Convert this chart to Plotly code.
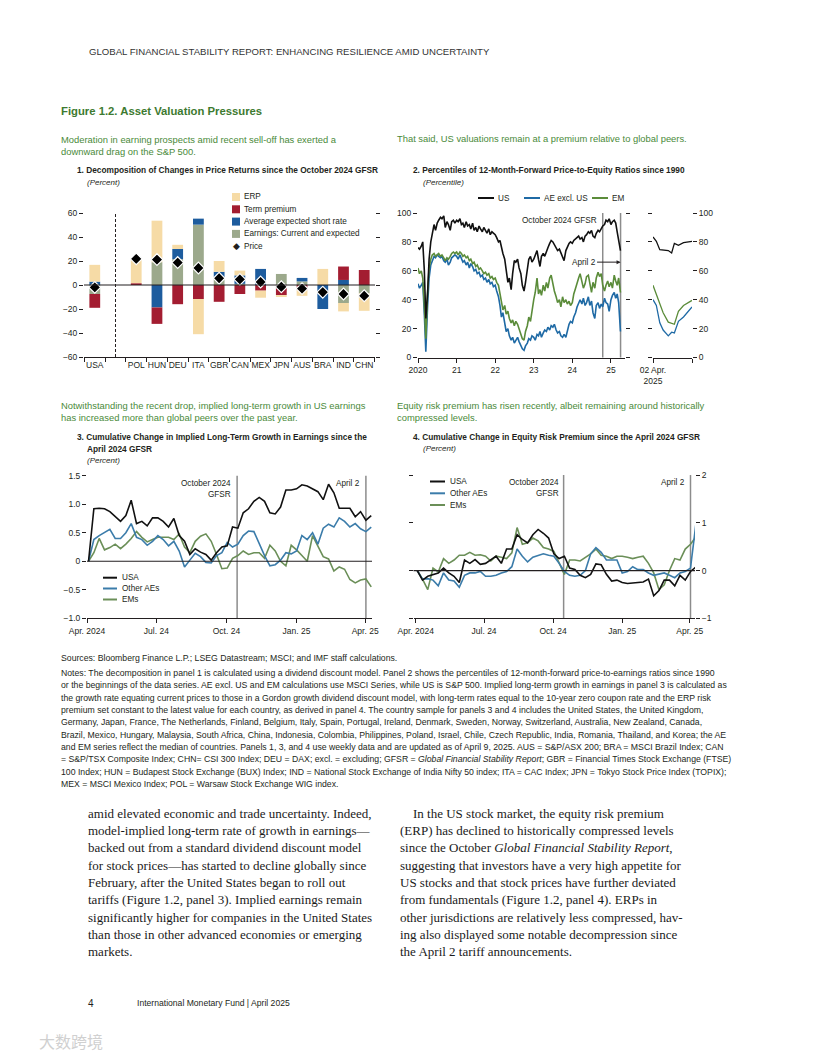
import plotly.graph_objects as go
import pandas as pd

# ---------------- Panel 1 data ----------------
p1_categories = ["USA", " ", "POL", "HUN", "DEU", "ITA", "GBR", "CAN", "MEX", "JPN", "AUS", "BRA", "IND", "CHN"]
p1_earnings = [-7.5, None, 0, 19, 21.5, 50.3, 6.4, 1, 0, 9.2, 3, 0, -15, -7]
p1_short_rate = [2.8, None, 0, -18.7, 8.5, 5, 4.6, 7, 13.4, 0, 2.9, -20, 4.2, 0]
p1_term_premium = [-11.5, None, 1.5, -13.7, -16, -11.7, -14, -7.5, -4.7, -8.4, -4, 0, 11.2, 12.5]
p1_erp = [14, None, 20, 34.6, 3.5, -29.3, 9, 4, -5.9, -1.6, -5, 13.4, -7, -14.5]
p1_price = [-2, None, 21.8, 21.2, 18.7, 14.2, 5.6, 4.7, 2.5, -1.5, -3, -6, -7.5, -9]

# ---------------- Panel 2 data (semi-monthly, 2020-01-01 .. 2025-04-01) ----------------
p2_dates = pd.date_range("2020-01-01", "2025-04-01", freq="SMS")
p2_us = [76, 75, 77, 80, 60, 27, 45, 68, 80, 86, 92, 88, 93, 95, 97, 96, 98, 90, 94, 92, 88, 94, 95, 93,
         95, 94, 96, 92, 93, 90, 94, 91, 92, 89, 93, 88, 90, 87, 91, 89, 87, 90, 88, 86, 89, 85, 87, 86,
         85, 83, 80, 81, 76, 72, 68, 60, 52, 55, 47, 58, 67, 66, 68, 62, 58, 50, 46, 52, 60, 68, 70, 66,
         68, 71, 74, 68, 63, 70, 72, 70, 74, 76, 79, 81, 80, 78, 76, 74, 75, 72, 70, 67, 74, 77, 79, 80,
         79, 81, 82, 83, 84, 82, 83, 80, 84, 85, 87, 86, 88, 84, 83, 86, 88, 87, 89, 91, 92, 95, 94, 96,
         92, 94, 95, 93, 87, 81, 74]
p2_ae = [51, 48, 50, 52, 30, 4, 36, 55, 64, 67, 70, 69, 71, 70, 69, 70, 67, 66, 68, 64, 66, 69, 70, 71,
         70, 68, 71, 69, 66, 67, 64, 66, 62, 65, 63, 60, 61, 58, 59, 56, 57, 54, 55, 52, 54, 51, 52, 49,
         50, 46, 42, 36, 28, 31, 25, 18, 20, 15, 12, 14, 10, 12, 14, 11, 8, 6, 5, 8, 10, 13, 12, 15,
         14, 12, 16, 15, 18, 14, 17, 19, 18, 21, 19, 22, 21, 23, 19, 17, 18, 15, 14, 16, 14, 19, 23, 25,
         24, 28, 31, 35, 38, 40, 37, 41, 36, 38, 42, 36, 39, 31, 27, 36, 38, 34, 37, 35, 41, 38, 37, 32,
         40, 43, 45, 41, 44, 38, 18]
p2_em = [62, 58, 60, 55, 36, 13, 45, 62, 68, 71, 72, 70, 71, 72, 70, 71, 69, 67, 69, 68, 70, 72, 73, 72,
         73, 71, 73, 72, 70, 71, 69, 70, 67, 68, 65, 66, 63, 64, 61, 62, 60, 58, 59, 57, 58, 55, 56, 54,
         55, 52, 50, 45, 40, 33, 36, 30, 32, 27, 24, 26, 22, 25, 23, 20, 17, 13, 12, 18, 22, 28, 25, 33,
         40, 45, 55, 44, 47, 43, 50, 46, 52, 48, 55, 57, 50, 46, 42, 38, 40, 35, 42, 38, 40, 37, 39, 36,
         38, 44, 48, 52, 55, 58, 52, 48, 51, 56, 57, 50, 45, 52, 48, 55, 59, 56, 58, 50, 46, 50, 53, 49,
         52, 48, 57, 53, 50, 55, 45]
p2_year_ticks = ["2020-01-01", "2021-01-01", "2022-01-01", "2023-01-01", "2024-01-01", "2025-01-01"]
p2_year_labels = ["2020", "21", "22", "23", "24", "25"]

# inset: days since 02 Apr. 2025
p2b_days = [0, 0.43, 0.87, 1.3, 1.96, 2.39, 2.74, 3.26, 3.91, 5]
p2b_us = [83.4, 80.4, 74.6, 74.3, 74, 72.3, 79, 77.6, 79.5, 80.4]
p2b_ae = [40, 36, 24, 19, 15, 17.5, 17, 25, 28, 35]
p2b_em = [50, 44, 38, 31, 24.5, 23.5, 23, 32, 36, 39.5]

# ---------------- Panels 3 & 4 data (weekly) ----------------
wk_dates = pd.date_range("2024-04-03", periods=54, freq="7D")
p3_usa = [0, 0.92, 0.93, 0.92, 0.87, 0.78, 0.70, 0.80, 1.07, 0.66, 0.70, 0.62, 0.76, 0.76, 0.70, 0.60, 0.75, 0.45,
          0.35, 0.12, 0.22, 0.16, 0.12, 0.02, 0.15, 0.25, 0.27, 0.60, 0.58, 0.85, 0.92, 1.05, 1.12, 1.05, 0.85, 0.83,
          0.95, 1.25, 1.25, 1.27, 1.34, 1.32, 1.27, 1.22, 1.08, 1.35, 1.20, 0.93, 0.93, 0.93, 0.78, 0.87, 0.72, 0.80]
p3_ae = [0, 0.38, 0.45, 0.50, 0.56, 0.40, 0.40, 0.50, 0.66, 0.42, 0.38, 0.28, 0.35, 0.45, 0.38, 0.27, 0.35, 0.18,
         -0.10, 0.02, 0.14, 0.08, -0.02, -0.03, 0.10, 0.15, 0.33, 0.25, 0.30, 0.45, 0.53, 0.52, 0.30, 0.10, -0.08, -0.06,
         0.02, 0.15, 0.13, 0.18, 0.45, 0.38, 0.50, 0.30, 0.58, 0.65, 0.60, 0.76, 0.70, 0.60, 0.66, 0.57, 0.52, 0.60]
p3_em = [0, 0.15, 0.40, 0.20, 0.24, 0.30, 0.22, 0.30, 0.40, 0.52, 0.42, 0.34, 0.38, 0.42, 0.42, 0.42, 0.38, 0.48,
         0.25, 0.15, 0.35, 0.44, 0.48, 0.35, 0.12, -0.13, -0.12, 0.05, 0.10, 0.18, 0.12, 0.15, 0.15, 0.05, 0.28, 0.18,
         0.00, -0.08, 0.28, 0.20, 0.10, 0.00, 0.45, 0.25, 0.08, 0.04, -0.17, -0.10, -0.14, -0.32, -0.38, -0.33, -0.31, -0.45]
p4_usa = [0, -0.20, -0.12, -0.08, -0.05, 0.05, -0.05, -0.12, -0.25, 0.22, 0.15, 0.23, 0.13, 0.15, 0.22, 0.30, 0.15, 0.45,
          0.45, 0.75, 0.65, 0.58, 0.75, 0.86, 0.78, 0.68, 0.35, 0.25, 0.30, 0.05, 0.02, -0.10, -0.15, -0.08, 0.14, 0.12,
          -0.08, -0.22, -0.20, -0.25, -0.27, -0.26, -0.24, -0.24, -0.18, -0.53, -0.42, -0.20, -0.20, -0.32, -0.10, -0.20, -0.02, 0.07]
p4_ae = [0, -0.18, -0.17, -0.20, -0.32, -0.05, -0.20, -0.22, -0.35, -0.10, -0.05, -0.05, -0.02, -0.12, -0.12, -0.10, -0.05, -0.02,
         0.08, 0.45, 0.30, 0.18, 0.28, 0.32, 0.35, 0.32, 0.30, 0.15, -0.02, -0.10, -0.12, -0.10, 0.00, 0.35, 0.48, 0.38,
         0.22, 0.22, 0.22, -0.05, -0.02, 0.08, 0.02, 0.02, -0.05, -0.10, -0.08, -0.05, -0.10, -0.15, -0.05, -0.02, 0.05, 0.95]
p4_em = [0, -0.18, -0.40, 0.05, -0.03, 0.25, 0.15, 0.22, 0.32, 0.32, 0.38, 0.32, 0.33, 0.30, 0.20, 0.30, 0.28, 0.25,
         0.37, 0.90, 0.55, 0.58, 0.68, 0.62, 0.48, 0.45, 0.40, 0.15, -0.08, 0.22, 0.22, 0.20, 0.28, 0.35, 0.45, 0.32,
         0.30, 0.25, 0.30, 0.30, 0.28, 0.25, 0.28, 0.30, 0.15, -0.05, -0.40, -0.30, 0.00, 0.25, 0.22, 0.45, 0.55, 0.70]
wk_ticks = ["2024-04-01", "2024-07-01", "2024-10-01", "2025-01-01", "2025-04-01"]
wk_labels = ["Apr. 2024", "Jul. 24", "Oct. 24", "Jan. 25", "Apr. 25"]
gfsr_oct_date = "2024-10-15"
april2_date = "2025-04-02"

# ---------------- styles ----------------
W, H = 816, 1056
def X(p): return p / W
def Y(p): return 1 - p / H

COND = "Liberation Sans, Arial, sans-serif"
SERIF = "Liberation Serif, DejaVu Serif, serif"
INK = "#231f20"
GREEN_T = "#4a8a3a"
C_ERP = "#f6dba6"
C_TERM = "#a31d31"
C_SHORT = "#1d5c9e"
C_EARN = "#9ca98c"
C_US = "#111111"
C_AE2 = "#1f6aa5"
C_EM2 = "#5b8c3a"
C_AE = "#3b7caa"
C_EM = "#6b8f58"
VGRAY = "#8c8c8c"
TF = dict(family=COND, size=8.5, color=INK)
LEG = 8.2
EVT = 8.2

fig = go.Figure()

# ---- panel 1 bars ----
for name, vals, col in [("Earnings: Current and expected", p1_earnings, C_EARN),
                        ("Average expected short rate", p1_short_rate, C_SHORT),
                        ("Term premium", p1_term_premium, C_TERM),
                        ("ERP", p1_erp, C_ERP)]:
    fig.add_trace(go.Bar(x=p1_categories, y=vals, name=name, marker_color=col,
                         marker_line_width=0, width=0.52, xaxis="x", yaxis="y"))
fig.add_trace(go.Scatter(x=p1_categories, y=p1_price, mode="markers", name="Price",
                         marker=dict(symbol="diamond", size=9, color="black",
                                     line=dict(color="white", width=1.2)), xaxis="x", yaxis="y"))

# ---- panel 2 ----
for vals, col in [(p2_ae, C_AE2), (p2_em, C_EM2), (p2_us, C_US)]:
    fig.add_trace(go.Scatter(x=p2_dates, y=vals, mode="lines", line=dict(color=col, width=1.6),
                             xaxis="x2", yaxis="y2"))
for vals, col in [(p2b_ae, C_AE2), (p2b_em, C_EM2), (p2b_us, C_US)]:
    fig.add_trace(go.Scatter(x=p2b_days, y=vals, mode="lines", line=dict(color=col, width=1.3),
                             xaxis="x3", yaxis="y3"))

# ---- panel 3 ----
for vals, col in [(p3_em, C_EM), (p3_ae, C_AE), (p3_usa, C_US)]:
    fig.add_trace(go.Scatter(x=wk_dates, y=vals, mode="lines", line=dict(color=col, width=1.6),
                             xaxis="x4", yaxis="y4"))
# ---- panel 4 ----
for vals, col in [(p4_em, C_EM), (p4_ae, C_AE), (p4_usa, C_US)]:
    fig.add_trace(go.Scatter(x=wk_dates, y=vals, mode="lines", line=dict(color=col, width=1.6),
                             xaxis="x5", yaxis="y6"))

base_ax = dict(showgrid=False, zeroline=False, tickfont=TF, ticks="outside", ticklen=4,
               tickcolor=INK, tickwidth=1, linecolor=INK, linewidth=1, fixedrange=True,
               automargin=False, tickangle=0)

fig.update_layout(
    width=W, height=H, margin=dict(l=0, r=0, t=0, b=0, pad=0, autoexpand=False),
    paper_bgcolor="white", plot_bgcolor="rgba(0,0,0,0)",
    showlegend=False, barmode="relative",
    xaxis=dict(base_ax, domain=[X(84), X(375)], anchor="y", type="category",
               categoryorder="array", categoryarray=p1_categories, range=[-0.52, 13.52],
               tickson="boundaries", showline=True),
    yaxis=dict(base_ax, domain=[Y(357), Y(213)], anchor="x", range=[-60, 60],
               tickvals=[-60, -40, -20, 0, 20, 40, 60],
               ticktext=["\u221260", "\u221240", "\u221220", "0", "20", "40", "60"],
               showline=False, mirror="ticks"),
    xaxis2=dict(base_ax, domain=[X(418), X(625)], anchor="y2", type="date",
                range=["2020-01-01", "2025-05-14"], tickvals=p2_year_ticks, ticktext=p2_year_labels,
                showline=True),
    yaxis2=dict(base_ax, domain=[Y(357.5), Y(213)], anchor="x2", range=[0, 100],
                tickvals=[0, 20, 40, 60, 80, 100], showline=False, mirror="ticks"),
    xaxis3=dict(base_ax, domain=[X(653), X(692)], anchor="y3", range=[0, 5],
                tickvals=[0, 5], ticktext=["02 Apr.<br>2025", ""], showline=True),
    yaxis3=dict(base_ax, domain=[Y(357.5), Y(213)], anchor="x3", range=[0, 100], side="right",
                tickvals=[0, 20, 40, 60, 80, 100], showline=False, mirror="ticks"),
    xaxis4=dict(base_ax, domain=[X(87), X(372)], anchor="y4", type="date",
                range=["2024-04-01", "2025-04-10"], tickvals=wk_ticks, ticktext=wk_labels, showline=True),
    yaxis4=dict(base_ax, domain=[Y(618.3), Y(475.7)], anchor="x4", range=[-1.0, 1.5],
                tickvals=[-1.0, -0.5, 0, 0.5, 1.0, 1.5],
                ticktext=["\u22121.0", "\u22120.5", "0", "0.5", "1.0", "1.5"], showline=False),
    yaxis5=dict(base_ax, overlaying="y4", anchor="x4", side="right", range=[-1.0, 1.5],
                tickvals=[1.5, 0.66, -0.18], showticklabels=False, showline=False),
    xaxis5=dict(base_ax, domain=[X(413.5), X(695)], anchor="y6", type="date",
                range=["2024-03-29", "2025-04-08"], tickvals=wk_ticks, ticktext=wk_labels, showline=True),
    yaxis6=dict(base_ax, domain=[Y(618.3), Y(475)], anchor="x5", range=[-1, 2], side="right",
                tickvals=[-1, 0, 1, 2], ticktext=["\u22121", "0", "1", "2"], showline=False, mirror="ticks"),
)

shapes = []
# zero lines
for xr, yr in [("x domain", "y"), ("x4 domain", "y4"), ("x5 domain", "y6")]:
    shapes.append(dict(type="line", xref=xr, yref=yr, x0=0, x1=1, y0=0, y1=0,
                       line=dict(color=INK, width=1.2), layer="above"))
# dashed separator panel 1
shapes.append(dict(type="line", xref="x", yref="y domain", x0=1, x1=1, y0=0, y1=1,
                   line=dict(color=INK, width=1, dash="3px,2px")))
# vertical event lines
for xr, yr in [("x2", "y2 domain"), ("x4", "y4 domain"), ("x5", "y6 domain")]:
    for d in (gfsr_oct_date, april2_date):
        shapes.append(dict(type="line", xref=xr, yref=yr, x0=d, x1=d, y0=0, y1=1,
                           line=dict(color=VGRAY, width=1.5), layer="below"))

annotations = []
def txt(x, y, text, size=10, color=INK, family=COND, xanchor="left", align="left"):
    annotations.append(dict(xref="paper", yref="paper", x=X(x), y=Y(y), text=text,
                            showarrow=False, xanchor=xanchor, yanchor="middle", align=align,
                            borderpad=0, font=dict(family=family, size=size, color=color)))

# legend (panel 1)
p1_leg = [("ERP", C_ERP), ("Term premium", C_TERM), ("Average expected short rate", C_SHORT),
          ("Earnings: Current and expected", C_EARN)]
for i, (lab, col) in enumerate(p1_leg):
    yy = 197 + 12.3 * i
    shapes.append(dict(type="rect", xref="paper", yref="paper", x0=X(232), x1=X(240),
                       y0=Y(yy + 4), y1=Y(yy - 4), fillcolor=col, line=dict(width=0)))
    txt(243, yy, lab, size=LEG)
txt(236, 246.2, "\u25c6", size=9, xanchor="center")
txt(243, 246.2, "Price", size=LEG)

def line_legend(items, x0, x1, ys, tx):
    for (lab, col), yy in zip(items, ys):
        shapes.append(dict(type="line", xref="paper", yref="paper", x0=X(x0), x1=X(x1),
                           y0=Y(yy), y1=Y(yy), line=dict(color=col, width=2)))
        txt(tx, yy, lab, size=LEG)

# panel 2 legend
for lab, col, a, b, t in [("US", C_US, 478, 494, 497), ("AE excl. US", C_AE2, 524, 540, 543),
                          ("EM", C_EM2, 592, 608, 611)]:
    shapes.append(dict(type="line", xref="paper", yref="paper", x0=X(a), x1=X(b),
                       y0=Y(198), y1=Y(198), line=dict(color=col, width=2)))
    txt(t, 198, lab, size=LEG)

line_legend([("USA", C_US), ("Other AEs", C_AE), ("EMs", C_EM)], 103, 117, [577.7, 588.5, 599.5], 121)
line_legend([("USA", C_US), ("Other AEs", C_AE), ("EMs", C_EM)], 430, 445, [481.5, 493.3, 505], 449)

# page texts
txt(88, 52, "GLOBAL FINANCIAL STABILITY REPORT: ENHANCING RESILIENCE AMID UNCERTAINTY", size=9.6,
    family="Liberation Sans, sans-serif", color="#333333")
txt(60, 111, "<b>Figure 1.2. Asset Valuation Pressures</b>", size=11.3, color="#3d7a30")
txt(60, 145.5, "Moderation in earning prospects amid recent sell-off has exerted a<br>downward drag on the S&P 500.",
    size=9.4, color=GREEN_T)
txt(396, 139, "That said, US valuations remain at a premium relative to global peers.", size=9.4, color=GREEN_T)
txt(60, 411.5, "Notwithstanding the recent drop, implied long-term growth in US earnings<br>has increased more than global peers over the past year.",
    size=9.4, color=GREEN_T)
txt(396, 411.5, "Equity risk premium has risen recently, albeit remaining around historically<br>compressed levels.",
    size=9.4, color=GREEN_T)

TT = 8.3
txt(76, 170, "<b>1. Decomposition of Changes in Price Returns since the October 2024 GFSR</b>", size=TT)
txt(86, 182, "<i>(Percent)</i>", size=8)
txt(412, 170, "<b>2. Percentiles of 12-Month-Forward Price-to-Equity Ratios since 1990</b>", size=TT)
txt(422, 182, "<i>(Percentile)</i>", size=8)
txt(76, 437, "<b>3. Cumulative Change in Implied Long-Term Growth in Earnings since the</b>", size=TT)
txt(86, 449, "<b>April 2024 GFSR</b>", size=TT)
txt(86, 460.5, "<i>(Percent)</i>", size=8)
txt(412, 437, "<b>4. Cumulative Change in Equity Risk Premium since the April 2024 GFSR</b>", size=TT)
txt(422, 448.5, "<i>(Percent)</i>", size=8)

# event labels
txt(598, 221, "October 2024 GFSR", size=EVT, xanchor="right")
annotations.append(dict(xref="x2", yref="y2", x=april2_date, y=66, ax=-37, ay=0, text="April 2",
                        showarrow=True, arrowhead=2, arrowsize=0.8, arrowwidth=1, arrowcolor=INK,
                        font=dict(family=COND, size=EVT, color=INK)))
txt(232, 489, "October 2024<br>GFSR", size=EVT, xanchor="right", align="right")
txt(361, 483, "April 2", size=EVT, xanchor="right")
txt(560, 488, "October 2024<br>GFSR", size=EVT, xanchor="right", align="right")
txt(686, 482, "April 2", size=EVT, xanchor="right")

# sources & notes
note_font = 8.7
txt(60, 658, "Sources: Bloomberg Finance L.P.; LSEG Datastream; MSCI; and IMF staff calculations.", size=note_font)
notes = [
    "Notes: The decomposition in panel 1 is calculated using a dividend discount model. Panel 2 shows the percentiles of 12-month-forward price-to-earnings ratios since 1990",
    "or the beginnings of the data series. AE excl. US and EM calculations use MSCI Series, while US is S&P 500. Implied long-term growth in earnings in panel 3 is calculated as",
    "the growth rate equating current prices to those in a Gordon growth dividend discount model, with long-term rates equal to the 10-year zero coupon rate and the ERP risk",
    "premium set constant to the latest value for each country, as derived in panel 4. The country sample for panels 3 and 4 includes the United States, the United Kingdom,",
    "Germany, Japan, France, The Netherlands, Finland, Belgium, Italy, Spain, Portugal, Ireland, Denmark, Sweden, Norway, Switzerland, Australia, New Zealand, Canada,",
    "Brazil, Mexico, Hungary, Malaysia, South Africa, China, Indonesia, Colombia, Philippines, Poland, Israel, Chile, Czech Republic, India, Romania, Thailand, and Korea; the AE",
    "and EM series reflect the median of countries. Panels 1, 3, and 4 use weekly data and are updated as of April 9, 2025. AUS = S&P/ASX 200; BRA = MSCI Brazil Index; CAN",
    "= S&P/TSX Composite Index; CHN= CSI 300 Index; DEU = DAX; excl. = excluding; GFSR = <i>Global Financial Stability Report</i>; GBR = Financial Times Stock Exchange (FTSE)",
    "100 Index; HUN = Budapest Stock Exchange (BUX) Index; IND = National Stock Exchange of India Nifty 50 index; ITA = CAC Index; JPN = Tokyo Stock Price Index (TOPIX);",
    "MEX = MSCI Mexico Index; POL = Warsaw Stock Exchange WIG index.",
]
for i, line in enumerate(notes):
    txt(60, 673 + 12.35 * i, line, size=note_font)

# body text
left_col = [
    "amid elevated economic and trade uncertainty. Indeed,",
    "model-implied long-term rate of growth in earnings\u2014",
    "backed out from a standard dividend discount model",
    "for stock prices\u2014has started to decline globally since",
    "February, after the United States began to roll out",
    "tariffs (Figure 1.2, panel 3). Implied earnings remain",
    "significantly higher for companies in the United States",
    "than those in other advanced economies or emerging",
    "markets.",
]
right_col = [
    "In the US stock market, the equity risk premium",
    "(ERP) has declined to historically compressed levels",
    "since the October <i>Global Financial Stability Report</i>,",
    "suggesting that investors have a very high appetite for",
    "US stocks and that stock prices have further deviated",
    "from fundamentals (Figure 1.2, panel 4). ERPs in",
    "other jurisdictions are relatively less compressed, hav-",
    "ing also displayed some notable decompression since",
    "the April 2 tariff announcements.",
]
for i, line in enumerate(left_col):
    txt(87, 813 + 17.35 * i, line, size=13, family=SERIF, color="#1a1a1a")
for i, line in enumerate(right_col):
    txt(412 if i == 0 else 399, 813 + 17.35 * i, line, size=13, family=SERIF, color="#1a1a1a")

txt(87, 1003, "4", size=10, family=COND)
txt(136, 1003, "International Monetary Fund | April 2025", size=8.6, family=COND)
txt(38, 1041, "\u5927\u6570\u8de8\u5883", size=16, color="#d0d0d0", family="Noto Sans CJK SC")

fig.update_layout(shapes=shapes, annotations=annotations)
fig.write_html("out.html", config={"displayModeBar": False, "staticPlot": True},
               post_script="document.body.style.margin='0';document.body.style.overflow='hidden';")
